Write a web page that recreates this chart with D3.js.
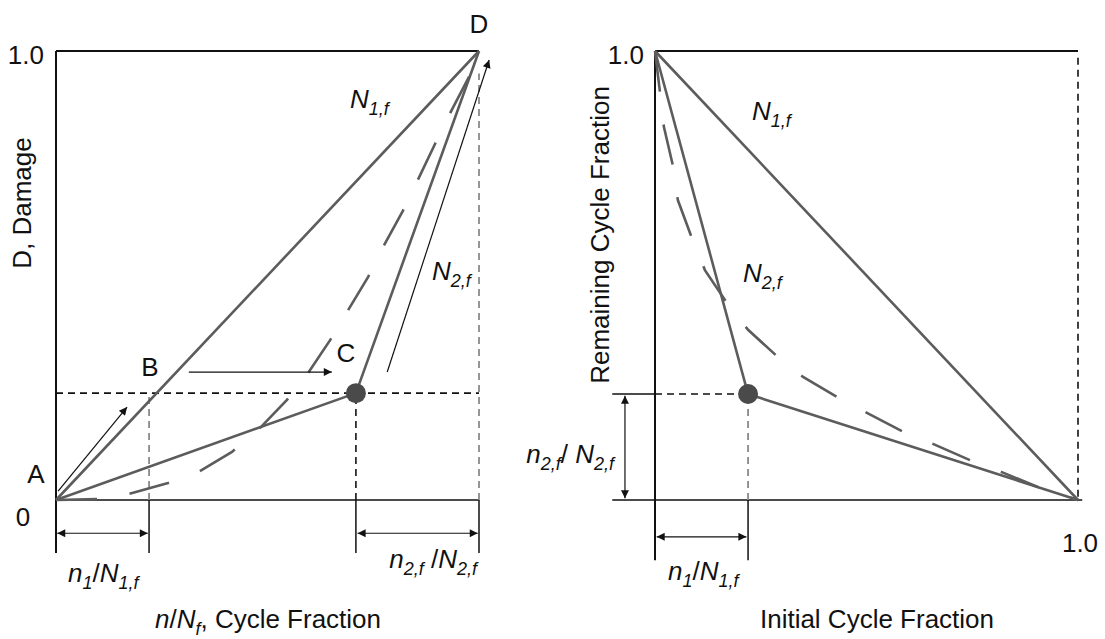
<!DOCTYPE html>
<html>
<head>
	<title>Damage curves</title>
	<style type="text/css">
		body { margin: 0; background: #fff; }
		text { font-family: "Liberation Sans", Arial, sans-serif; font-size: 26px; fill: #111; }
		.it { font-style: italic; }
		.frame { stroke: #111; stroke-width: 2; fill: none; }
		.thin { stroke: #111; stroke-width: 1.5; fill: none; }
		.gray { stroke: #5c5c5c; stroke-width: 2.6; fill: none; }
		.curve { stroke: #5c5c5c; stroke-width: 2.6; fill: none; stroke-dasharray: 41, 33; }
		.dashK { stroke: #111; stroke-width: 1.6; stroke-dasharray: 7, 5; fill: none; }
		.dashG { stroke: #8a8a8a; stroke-width: 1.8; stroke-dasharray: 7, 5; fill: none; }
		.arrow { stroke: #111; stroke-width: 1.2; fill: none; }
	</style>
</head>
<body>
	<div id="chart"></div>
	<script src="https://d3js.org/d3.v7.min.js"></script>
	<script type="text/javascript">
		// values, in cycle-fraction units (0..1)
		var damageCurve = [[0,0],[0.097,0.002],[0.170,0.013],[0.265,0.038],[0.336,0.062],[0.416,0.107],
			[0.482,0.160],[0.546,0.223],[0.596,0.283],[0.648,0.356],[0.688,0.419],[0.738,0.497],
			[0.773,0.563],[0.820,0.644],[0.853,0.708],[0.896,0.793],[0.929,0.857],[0.979,0.947],[1,1]];
		var remainingCurve = [[0,1],[0.012,0.906],[0.021,0.831],[0.043,0.742],[0.054,0.668],[0.087,0.584],
			[0.118,0.512],[0.170,0.439],[0.220,0.379],[0.291,0.318],[0.350,0.274],[0.435,0.227],
			[0.501,0.194],[0.589,0.151],[0.657,0.125],[0.749,0.087],[0.820,0.062],[0.905,0.029],[1,0]];
		var n1Frac = 0.22;          // n1/N1,f
		var pointC = [0.709, 0.238]; // left panel knee
		var pointR = [0.22, 0.236];  // right panel knee
		var tickLabels = ["1.0", "0"];

		var width = 1105, height = 639;

		var svg = d3.select('#chart').append('svg')
			.attr('width', width).attr('height', height);

		var defs = svg.append('defs');
		defs.append('marker').attr('id', 'head')
			.attr('viewBox', '0 0 10 10').attr('refX', 10).attr('refY', 5)
			.attr('markerWidth', 11).attr('markerHeight', 8).attr('markerUnits', 'userSpaceOnUse')
			.attr('orient', 'auto-start-reverse')
			.append('path').attr('d', 'M0,0 L10,5 L0,10 z').attr('fill', '#111');

		var x1 = d3.scaleLinear().domain([0, 1]).range([56, 479]),
			y1 = d3.scaleLinear().domain([0, 1]).range([500, 51]),
			x2 = d3.scaleLinear().domain([0, 1]).range([655, 1078]),
			y2 = d3.scaleLinear().domain([0, 1]).range([500, 51]);

		function seg(g, cls, xs, ys, a, b) {
			return g.append('line').attr('class', cls)
				.attr('x1', xs(a[0])).attr('y1', ys(a[1]))
				.attr('x2', xs(b[0])).attr('y2', ys(b[1]));
		}
		function arrow(g, xs, ys, a, b, both) {
			var l = seg(g, 'arrow', xs, ys, a, b).attr('marker-end', 'url(#head)');
			if (both) l.attr('marker-start', 'url(#head)');
			return l;
		}
		// label with italic symbols and subscripts: parts = [[text, sub?, italic?, back-to-baseline?], ...]
		function mathLabel(g, x, y, parts, anchor) {
			var t = g.append('text').attr('x', x).attr('y', y).attr('text-anchor', anchor || 'start');
			var down = false;
			parts.forEach(function(p) {
				var s = t.append('tspan').text(p[0]);
				if (p[2]) s.attr('class', 'it');
				if (p[1]) {
					s.attr('font-size', '18px');
					if (!down) { s.attr('dy', 7); down = true; }
				} else if (down) {
					s.attr('dy', -7); down = false;
				}
			});
			return t;
		}

		var line = d3.line();

		// ---------- left panel ----------
		var L = svg.append('g');
		var ext = -0.118; // how far the ticks hang below the axis

		seg(L, 'frame', x1, y1, [0, 1], [1, 1]);
		seg(L, 'frame', x1, y1, [0, 1], [0, ext]);
		seg(L, 'thin', x1, y1, [0, 0], [1, 0]);
		seg(L, 'thin', x1, y1, [n1Frac, 0], [n1Frac, ext]);
		seg(L, 'thin', x1, y1, [pointC[0], 0], [pointC[0], ext]);
		seg(L, 'thin', x1, y1, [1, 0], [1, ext]);

		seg(L, 'dashK', x1, y1, [0, pointC[1]], [1, pointC[1]]);
		seg(L, 'dashG', x1, y1, [n1Frac, 0], [n1Frac, pointC[1]]);
		seg(L, 'dashK', x1, y1, [pointC[0], 0], [pointC[0], pointC[1]]);
		seg(L, 'dashG', x1, y1, [1, 0], [1, 0.95]);

		seg(L, 'gray', x1, y1, [0, 0], [1, 1]);
		seg(L, 'gray', x1, y1, [0, 0], pointC);
		seg(L, 'gray', x1, y1, pointC, [1, 1]);
		L.append('path').attr('class', 'curve').attr('d', line(damageCurve.map(function(d) { return [x1(d[0]), y1(d[1])]; })));
		L.append('circle').attr('cx', x1(pointC[0])).attr('cy', y1(pointC[1])).attr('r', 10).attr('fill', '#4a4a4a');

		arrow(L, x1, y1, [0.005, 0.02], [0.168, 0.207]);
		arrow(L, x1, y1, [0.314, 0.285], [0.652, 0.285]);
		arrow(L, x1, y1, [0.783, 0.285], [1.024, 0.98]);
		arrow(L, x1, y1, [0.003, -0.074], [n1Frac - 0.003, -0.074], true);
		arrow(L, x1, y1, [pointC[0] + 0.004, -0.074], [0.997, -0.074], true);

		L.append('text').attr('x', 44).attr('y', 64).attr('text-anchor', 'end').text(tickLabels[0]);
		L.append('text').attr('x', 23).attr('y', 526).attr('text-anchor', 'middle').text(tickLabels[1]);
		L.append('text').attr('x', 479).attr('y', 33).attr('text-anchor', 'middle').text('D');
		L.append('text').attr('x', 150).attr('y', 376).attr('text-anchor', 'middle').text('B');
		L.append('text').attr('x', 346).attr('y', 362).attr('text-anchor', 'middle').text('C');
		L.append('text').attr('x', 36).attr('y', 483).attr('text-anchor', 'middle').text('A');
		mathLabel(L, 350, 108, [['N', false, true], ['1,f', true, true]]);
		mathLabel(L, 432, 280, [['N', false, true], ['2,f', true, true]]);
		mathLabel(L, 68, 582, [['n', false, true], ['1', true, true], ['/', false, false], ['N', false, true], ['1,f', true, true]]);
		mathLabel(L, 477, 568, [['n', false, true], ['2,f', true, true], [' /', false, false], ['N', false, true], ['2,f', true, true]], 'end');
		mathLabel(L, 268, 628, [['n', false, true], ['/', false, false], ['N', false, true], ['f', true, true], [', Cycle Fraction', false, false]], 'middle');
		L.append('text').attr('transform', 'translate(31,203) rotate(-90)').attr('text-anchor', 'middle').text('D, Damage');

		// ---------- right panel ----------
		var R = svg.append('g');
		var left = -0.101; // short horizontal stubs reach left of the axis

		seg(R, 'frame', x2, y2, [0, 1], [1, 1]);
		seg(R, 'frame', x2, y2, [0, 1], [0, -0.134]);
		seg(R, 'thin', x2, y2, [left, 0], [1.01, 0]);
		seg(R, 'thin', x2, y2, [left, pointR[1]], [0, pointR[1]]);
		seg(R, 'thin', x2, y2, [pointR[0], 0], [pointR[0], -0.134]);
		seg(R, 'dashK', x2, y2, [0, pointR[1]], pointR);
		seg(R, 'dashG', x2, y2, [pointR[0], 0], pointR);
		seg(R, 'dashK', x2, y2, [1, 0.985], [1, 0]);

		seg(R, 'gray', x2, y2, [0, 1], [1, 0]);
		seg(R, 'gray', x2, y2, [0, 1], pointR);
		seg(R, 'gray', x2, y2, pointR, [1, 0]);
		R.append('path').attr('class', 'curve').attr('d', line(remainingCurve.map(function(d) { return [x2(d[0]), y2(d[1])]; })));
		R.append('circle').attr('cx', x2(pointR[0])).attr('cy', y2(pointR[1])).attr('r', 10).attr('fill', '#4a4a4a');

		arrow(R, x2, y2, [-0.071, pointR[1] - 0.004], [-0.071, 0.004], true);
		arrow(R, x2, y2, [0.004, -0.082], [pointR[0] - 0.004, -0.082], true);

		R.append('text').attr('x', 644).attr('y', 64).attr('text-anchor', 'end').text(tickLabels[0]);
		R.append('text').attr('x', 1080).attr('y', 552).attr('text-anchor', 'middle').text(tickLabels[0]);
		mathLabel(R, 752, 120, [['N', false, true], ['1,f', true, true]]);
		mathLabel(R, 743, 282, [['N', false, true], ['2,f', true, true]]);
		mathLabel(R, 668, 580, [['n', false, true], ['1', true, true], ['/', false, false], ['N', false, true], ['1,f', true, true]]);
		mathLabel(R, 614, 463, [['n', false, true], ['2,f', true, true], ['/ ', false, false], ['N', false, true], ['2,f', true, true]], 'end');
		R.append('text').attr('x', 877).attr('y', 628).attr('text-anchor', 'middle').text('Initial Cycle Fraction');
		R.append('text').attr('transform', 'translate(609,235) rotate(-90)').attr('text-anchor', 'middle').text('Remaining Cycle Fraction');
	</script>
</body>
</html>
